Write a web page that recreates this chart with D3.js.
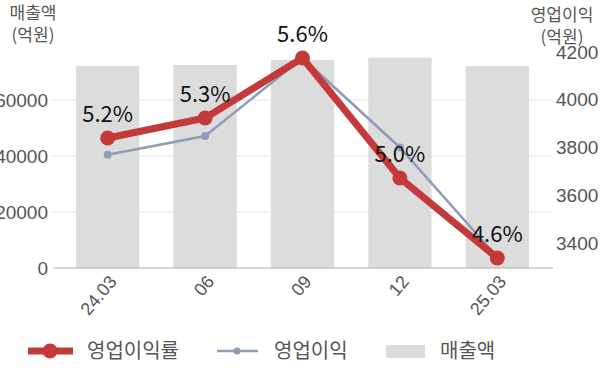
<!DOCTYPE html>
<html>
<head>
<meta charset="utf-8">
<script src="https://cdn.jsdelivr.net/npm/d3@7"></script>
<style>
  body { margin: 0; background: #fff; }
  svg { font-family: "Noto Sans CJK KR", "Noto Sans", sans-serif; }
</style>
</head>
<body>
<div id="chart"></div>
<script>
// data
const categories = ["24.03", "06", "09", "12", "25.03"];
const sales = [72100, 72500, 74300, 75100, 72100];          // 매출액 (억원)
const opProfit = [3770, 3848, 4175, 3800, 3340];           // 영업이익 (억원)
const opMargin = [5.2, 5.3, 5.6, 5.0, 4.6];                // 영업이익률 (%)
const leftTicks = [0, 20000, 40000, 60000];
const rightTicks = [3400, 3600, 3800, 4000, 4200];

const W = 600, H = 383;
const red = "#c43a3b", blue = "#8f9bb9", grey = "#dcdcdc", txt = "#555";

const svg = d3.select("#chart").append("svg")
  .attr("width", W)
  .attr("height", H);

const x = d3.scaleBand()
  .domain(categories)
  .range([59, 546])
  .paddingInner(0.35)
  .paddingOuter(0.175);

const yLeft = d3.scaleLinear().domain([0, 80000]).range([268, 44]);
const yRight = d3.scaleLinear().domain([3400, 4200]).range([243, 52]);
const yMargin = d3.scaleLinear().domain([4.6, 5.6]).range([258, 58]);

// gridlines
svg.append("g")
  .selectAll("line")
  .data(leftTicks.slice(1))
  .join("line")
    .attr("x1", 53).attr("x2", 553)
    .attr("y1", d => yLeft(d)).attr("y2", d => yLeft(d))
    .attr("stroke", "#e3e3e3").attr("stroke-width", 1);

// bars
svg.append("g")
  .selectAll("rect")
  .data(sales)
  .join("rect")
    .attr("x", (d, i) => x(categories[i]))
    .attr("width", x.bandwidth())
    .attr("y", d => yLeft(d))
    .attr("height", d => yLeft(0) - yLeft(d))
    .attr("fill", grey);

// baseline
svg.append("line")
  .attr("x1", 53).attr("x2", 553)
  .attr("y1", 268).attr("y2", 268)
  .attr("stroke", "#b0b0b0").attr("stroke-width", 1.2);

// left axis
const leftAxis = svg.append("g")
  .attr("transform", "translate(48,0)")
  .call(d3.axisLeft(yLeft).tickValues(leftTicks).tickSize(0).tickPadding(0).tickFormat(d3.format("d")));
leftAxis.select(".domain").remove();
leftAxis.selectAll("text").attr("font-size", 19).attr("fill", txt).attr("font-family", null);

// right axis
const rightAxis = svg.append("g")
  .attr("transform", "translate(556,0)")
  .call(d3.axisRight(yRight).tickValues(rightTicks).tickSize(0).tickPadding(0).tickFormat(d3.format("d")));
rightAxis.select(".domain").remove();
rightAxis.selectAll("text").attr("font-size", 19).attr("fill", txt).attr("font-family", null);

// x axis labels
const xAxis = svg.append("g")
  .attr("transform", "translate(0,268)")
  .call(d3.axisBottom(x).tickSize(0).tickPadding(0));
xAxis.select(".domain").remove();
xAxis.selectAll("text")
  .attr("font-size", 18).attr("fill", txt).attr("font-family", null)
  .attr("text-anchor", "end")
  .attr("dy", null).attr("y", 0)
  .attr("transform", "translate(10,14) rotate(-50)");

// axis titles
const titles = [
  { x: 33, y: 19, t: "매출액" },
  { x: 33, y: 41, t: "(억원)" },
  { x: 562, y: 21, t: "영업이익" },
  { x: 562, y: 43, t: "(억원)" }
];
svg.append("g").selectAll("text")
  .data(titles)
  .join("text")
    .attr("x", d => d.x).attr("y", d => d.y)
    .attr("text-anchor", "middle")
    .attr("font-size", 17).attr("fill", txt)
    .text(d => d.t);

const cx = (d, i) => x(categories[i]) + x.bandwidth() / 2;

// operating profit line
svg.append("path")
  .datum(opProfit)
  .attr("fill", "none")
  .attr("stroke", blue)
  .attr("stroke-width", 2.5)
  .attr("d", d3.line().x(cx).y(d => yRight(d)));
svg.append("g").selectAll("circle")
  .data(opProfit)
  .join("circle")
    .attr("cx", cx).attr("cy", d => yRight(d))
    .attr("r", 4).attr("fill", blue);

// margin line
svg.append("path")
  .datum(opMargin)
  .attr("fill", "none")
  .attr("stroke", red)
  .attr("stroke-width", 7)
  .attr("stroke-linejoin", "round")
  .attr("d", d3.line().x(cx).y(d => yMargin(d)));
svg.append("g").selectAll("circle")
  .data(opMargin)
  .join("circle")
    .attr("cx", cx).attr("cy", d => yMargin(d))
    .attr("r", 7.5).attr("fill", red);

// margin labels
svg.append("g").selectAll("text")
  .data(opMargin)
  .join("text")
    .attr("x", cx)
    .attr("y", d => yMargin(d) - 16)
    .attr("text-anchor", "middle")
    .attr("font-size", 22).attr("fill", "#111")
    .text(d => d.toFixed(1) + "%");

// legend
const lg = svg.append("g").attr("transform", "translate(0,351)");
lg.append("line").attr("x1", 28).attr("x2", 73).attr("stroke", red).attr("stroke-width", 7);
lg.append("circle").attr("cx", 50).attr("r", 7.5).attr("fill", red);
lg.append("text").attr("x", 87).attr("y", 7).attr("font-size", 20).attr("fill", txt).text("영업이익률");
lg.append("line").attr("x1", 217).attr("x2", 258).attr("stroke", blue).attr("stroke-width", 2.5);
lg.append("circle").attr("cx", 237).attr("r", 3.5).attr("fill", blue);
lg.append("text").attr("x", 274).attr("y", 7).attr("font-size", 20).attr("fill", txt).text("영업이익");
lg.append("rect").attr("x", 386).attr("y", -6).attr("width", 39).attr("height", 13).attr("fill", grey);
lg.append("text").attr("x", 440).attr("y", 7).attr("font-size", 20).attr("fill", txt).text("매출액");
</script>
</body>
</html>
